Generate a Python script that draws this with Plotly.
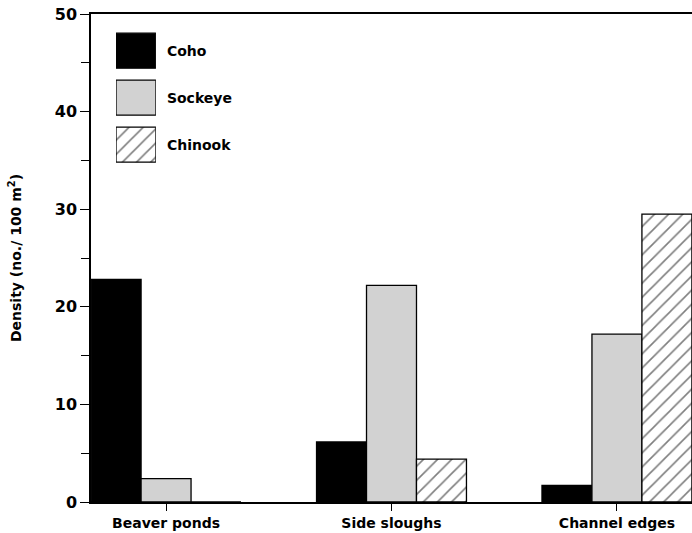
import plotly.graph_objects as go

categories = ["Beaver ponds", "Side sloughs", "Channel edges"]
species = ["Coho", "Sockeye", "Chinook"]
coho = [22.8, 6.15, 1.7]
sockeye = [2.4, 22.2, 17.2]
chinook = [0.0, 4.4, 29.5]
y_ticks = [0, 10, 20, 30, 40, 50]

FONT = "DejaVu Sans"
styles = {
    "Coho": dict(color="black", pattern=None),
    "Sockeye": dict(color="#d2d2d2", pattern=None),
    "Chinook": dict(color="white",
                    pattern=dict(shape="/", fgcolor="black", bgcolor="white",
                                 size=10, solidity=0.16)),
}

fig = go.Figure()
for name, vals in zip(species, [coho, sockeye, chinook]):
    st = styles[name]
    marker = dict(color=st["color"], line=dict(color="black", width=1.3))
    if st["pattern"]:
        marker["pattern"] = st["pattern"]
    fig.add_trace(go.Bar(x=categories, y=vals, name=name, marker=marker,
                         showlegend=False, xaxis="x", yaxis="y"))

# legend keys drawn as a small auxiliary horizontal bar chart
for name in species:
    st = styles[name]
    marker = dict(color=st["color"], line=dict(color="black", width=1.3))
    if st["pattern"]:
        marker["pattern"] = st["pattern"]
    fig.add_trace(go.Bar(y=[name], x=[1], orientation="h", width=0.745,
                         marker=marker, showlegend=False, hoverinfo="skip",
                         xaxis="x2", yaxis="y2"))

fig.update_layout(
    width=692, height=533,
    margin=dict(l=91, r=0, t=14, b=31),
    paper_bgcolor="white", plot_bgcolor="white",
    barmode="group", bargap=0.335, bargroupgap=0,
    font=dict(family=FONT, color="black", size=13, weight="bold"),
    xaxis=dict(
        range=[-0.333, 2.333], showline=True, linecolor="black", linewidth=1.5,
        mirror=True, ticks="outside", ticklen=7, tickwidth=1, tickcolor="black",
        showgrid=False, zeroline=False,
        tickfont=dict(family=FONT, size=14, weight="bold"),
    ),
    yaxis=dict(
        range=[0, 50], tickvals=y_ticks, showline=True, linecolor="black",
        linewidth=1.5, ticks="outside", ticklen=9, tickwidth=1.2, tickcolor="black",
        minor=dict(dtick=5, ticks="outside", ticklen=8, tickwidth=1.2, tickcolor="black"),
        showgrid=False, zeroline=False,
        tickfont=dict(family=FONT, size=16, weight="bold"),
        title=dict(text="Density (no./ 100 m<sup>2</sup>)", standoff=30,
                   font=dict(family=FONT, size=14, weight="bold")),
    ),
    xaxis2=dict(domain=[0.0416, 0.108], range=[0, 1], anchor="y2",
                visible=False, fixedrange=True),
    yaxis2=dict(domain=[0.684, 0.973], range=[2.5, -0.5], anchor="x2",
                side="right", showline=False, ticks="", showgrid=False,
                zeroline=False, ticklabelstandoff=10,
                tickfont=dict(family=FONT, size=14, weight="bold")),
)

fig.write_html("out.html", config={"displayModeBar": False},
               post_script="document.body.style.margin='0';document.body.style.overflow='hidden';")
